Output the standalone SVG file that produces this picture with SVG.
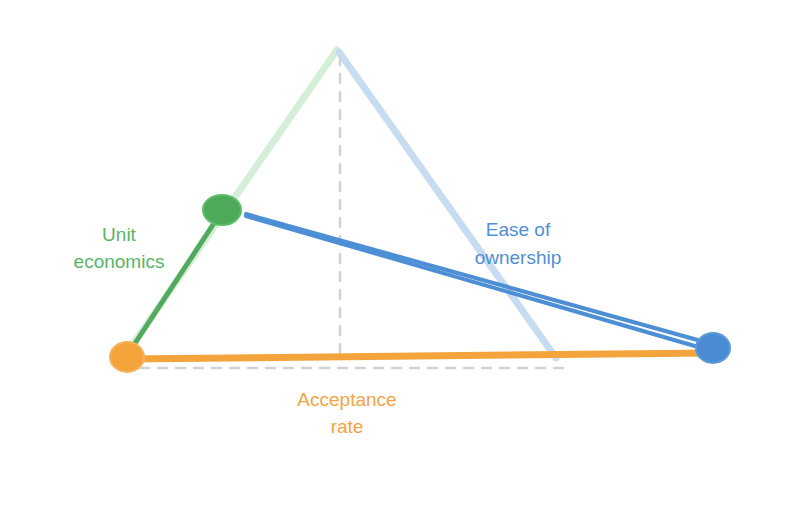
<svg xmlns="http://www.w3.org/2000/svg" width="800" height="512" viewBox="0 0 800 512">
<style>
.lbl{font-family:"Liberation Sans",Arial,sans-serif;font-size:19px;text-anchor:middle}
.g{fill:#5bb36a}.b{fill:#4f8fd3}.o{fill:#f1a444}
.dash{stroke:#d0d2d6;stroke-width:2.5;stroke-dasharray:9 9;fill:none}
</style>
<rect width="800" height="512" fill="#ffffff"/>
<g id="connectors" fill="none" stroke-linecap="round">
  <line x1="337" y1="50" x2="122" y2="360" stroke="#d5eed8" stroke-width="7"/>
  <line x1="339" y1="52" x2="556" y2="358" stroke="#c8dcf1" stroke-width="7"/>
  <line class="dash" x1="340" y1="56" x2="340" y2="360"/>
  <line class="dash" x1="140" y1="368" x2="565" y2="368"/>
  <line x1="124" y1="360" x2="224" y2="208" stroke="#52ab5c" stroke-width="5"/>
  <line x1="126" y1="359" x2="712" y2="353" stroke="#f3a43c" stroke-width="7"/>
  <line x1="246" y1="214" x2="712" y2="344" stroke="#4d8fd5" stroke-width="4"/>
  <line x1="246" y1="216" x2="712" y2="351" stroke="#4d8fd5" stroke-width="4"/>
</g>
<g id="node-unit-economics">
  <ellipse cx="222" cy="210" rx="19" ry="15" fill="#4caa58" stroke="#5fbb6a" stroke-width="2"/>
  <text class="lbl g" x="119" y="241">Unit</text>
  <text class="lbl g" x="119" y="268">economics</text>
</g>
<g id="node-acceptance-rate">
  <ellipse cx="127" cy="357" rx="17" ry="15" fill="#f4a33a" stroke="#f7b25c" stroke-width="2"/>
  <text class="lbl o" x="347" y="406">Acceptance</text>
  <text class="lbl o" x="347" y="433">rate</text>
</g>
<g id="node-ease-of-ownership">
  <ellipse cx="713" cy="348" rx="17" ry="15" fill="#4a8bd2" stroke="#5b9ad8" stroke-width="2"/>
  <text class="lbl b" x="518" y="236">Ease of</text>
  <text class="lbl b" x="518" y="264">ownership</text>
</g>
</svg>
